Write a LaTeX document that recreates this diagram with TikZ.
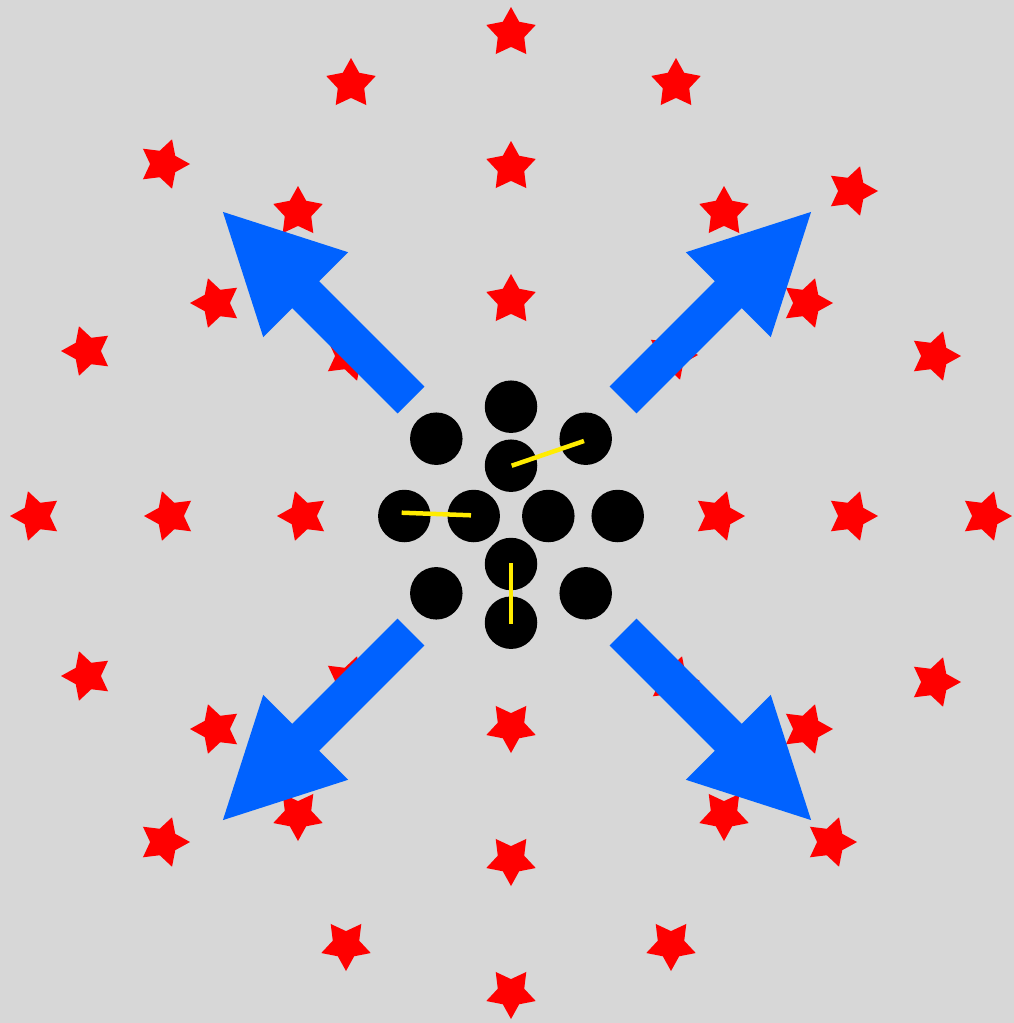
\documentclass[tikz,border=0pt]{standalone}
\usetikzlibrary{shapes.geometric}
\definecolor{bg}{RGB}{215,215,215}
\definecolor{starred}{RGB}{255,0,0}
\definecolor{arrowblue}{RGB}{0,98,255}
\definecolor{lineyellow}{RGB}{255,236,0}
\begin{document}
\begin{tikzpicture}[x=1pt,y=-1pt,
  redstar/.style={star, star points=5, star point ratio=1.87, minimum size=52pt, inner sep=0pt, fill=starred, draw=none},
  dot/.style={circle, minimum size=52.5pt, inner sep=0pt, fill=black, draw=none},
  ylink/.style={draw=lineyellow, line width=4.5pt},
  bigarrow/.style={fill=arrowblue}]
\fill[bg] (0,0) rectangle (1014,1023);
\useasboundingbox (0,0) rectangle (1014,1023);
% stars
\foreach \n/\x/\y/\r in {
  1/511/33/0, 2/511/167/0, 3/511/300/0,
  4/511/727/180, 5/511/860/180, 6/511/993/180,
  7/36/516/90, 8/170/516/90, 9/303/516/90,
  10/719/516/-90, 11/852/516/-90, 12/986/516/-90,
  13/351/84/0, 14/298/212/0, 15/164/164/-90, 16/216/303/90, 17/87/351/90, 18/349/356/-90,
  19/676/84/0, 20/724/212/0, 21/852/191/-90, 22/807/303/-90, 23/935/356/-90, 24/672/355/-90,
  25/87/676/90, 26/216/729/90, 27/164/842/-90, 28/298/815/180, 29/346/945/180, 30/349/681/-90,
  31/935/682/-90, 32/807/729/-90, 33/831/842/-90, 34/724/815/180, 35/671/945/180, 36/674/681/-90}
  \node[redstar, rotate=\r] (s\n) at (\x,\y) {};
% arrows
\foreach \x/\y/\a in {411/400/135, 623/400/45, 411/632/225, 623/632/315}
  \fill[bigarrow, shift={(\x,\y)}, rotate=\a]
    (0,-19) -- (149,-19) -- (149,-60) -- (266,0) -- (149,60) -- (149,19) -- (0,19) -- cycle;
% circles
\foreach \n/\x/\y in {1/511/406.7, 2/436.3/438.7, 3/585.7/438.7, 4/511/465.7,
  5/404.3/516, 6/473.7/516, 7/548.3/516, 8/617.7/516,
  9/511/564, 10/436.3/593.3, 11/585.7/593.3, 12/511/622.7}
  \node[dot] (c\n) at (\x,\y) {};
% yellow links
\coordinate (y1a) at (511.7,465.7);
\coordinate (y1b) at (584,441);
\coordinate (y2a) at (401.7,512.7);
\coordinate (y2b) at (471,515.3);
\coordinate (y3a) at (511,563.3);
\coordinate (y3b) at (511,624.3);
\draw[ylink] (y1a) -- (y1b);
\draw[ylink] (y2a) -- (y2b);
\draw[ylink] (y3a) -- (y3b);
\end{tikzpicture}
\end{document}
